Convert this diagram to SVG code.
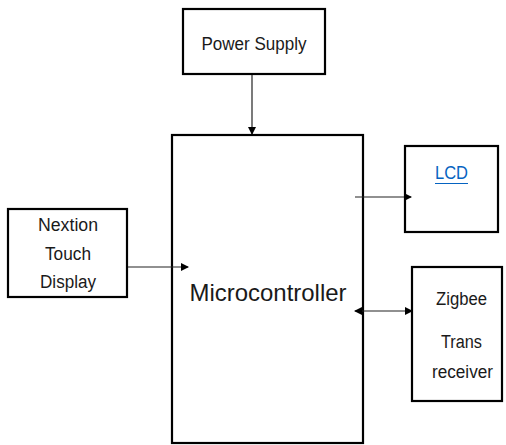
<svg xmlns="http://www.w3.org/2000/svg" width="506" height="445" viewBox="0 0 506 445">
<style>
.box{fill:#fff;stroke:#000;stroke-width:2.2}
.lbl{font-family:"Liberation Sans",Arial,sans-serif;font-size:18px;fill:#1a1a1a;text-anchor:middle}
.con{stroke:#222;stroke-width:1.2;fill:none}
</style>
<defs>
<marker id="ah" markerWidth="8" markerHeight="8" refX="7" refY="4" orient="auto" markerUnits="userSpaceOnUse">
<path d="M0,0 L8,4 L0,8 Z" fill="#000"/>
</marker>
<marker id="as" markerWidth="8" markerHeight="8" refX="1" refY="4" orient="auto" markerUnits="userSpaceOnUse">
<path d="M8,0 L0,4 L8,8 Z" fill="#000"/>
</marker>
</defs>
<rect width="506" height="445" fill="#fff"/>
<g id="microcontroller">
<rect class="box" x="172" y="135" width="191" height="308"/>
<text class="lbl" x="268" y="301" font-size="24" textLength="157" lengthAdjust="spacingAndGlyphs" style="font-size:24px">Microcontroller</text>
</g>
<g id="power-supply">
<rect class="box" x="183" y="9" width="142" height="65"/>
<text class="lbl" x="254" y="50" textLength="105" lengthAdjust="spacingAndGlyphs">Power Supply</text>
</g>
<g id="lcd">
<rect class="box" x="405" y="146" width="93" height="86"/>
<text class="lbl" x="451.5" y="179" textLength="33" lengthAdjust="spacingAndGlyphs" style="fill:#0563C1">LCD</text>
<line x1="435" y1="183.5" x2="468" y2="183.5" stroke="#0563C1" stroke-width="1.2"/>
</g>
<g id="nextion">
<rect class="box" x="8" y="209" width="119" height="88"/>
<text class="lbl" x="68" y="231" textLength="60" lengthAdjust="spacingAndGlyphs">Nextion</text>
<text class="lbl" x="68" y="260" textLength="46" lengthAdjust="spacingAndGlyphs">Touch</text>
<text class="lbl" x="68" y="288" textLength="56" lengthAdjust="spacingAndGlyphs">Display</text>
</g>
<g id="zigbee">
<rect class="box" x="412" y="267" width="90" height="134"/>
<text class="lbl" x="461.5" y="305" textLength="51" lengthAdjust="spacingAndGlyphs">Zigbee</text>
<text class="lbl" x="461.5" y="348" textLength="41" lengthAdjust="spacingAndGlyphs">Trans</text>
<text class="lbl" x="462.5" y="378" textLength="61" lengthAdjust="spacingAndGlyphs">receiver</text>
</g>
<g id="connectors">
<line class="con" x1="252" y1="75" x2="252" y2="134" marker-end="url(#ah)"/>
<line class="con" x1="355" y1="197" x2="411" y2="197" marker-end="url(#ah)"/>
<line class="con" x1="128" y1="267" x2="188" y2="267" marker-end="url(#ah)"/>
<line class="con" x1="355" y1="311" x2="412" y2="311" marker-start="url(#as)" marker-end="url(#ah)"/>
</g>
</svg>
